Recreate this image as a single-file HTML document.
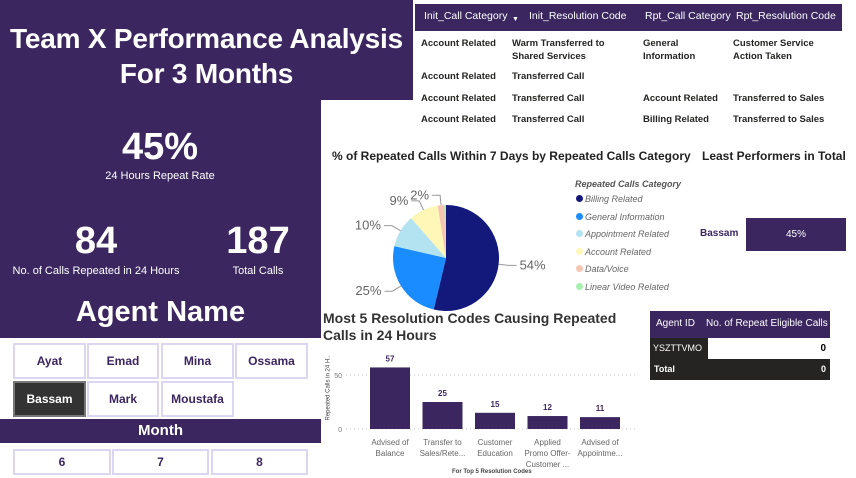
<!DOCTYPE html>
<html><head><meta charset="utf-8"><style>
*{margin:0;padding:0;box-sizing:border-box}
body{width:856px;height:478px;position:relative;background:#fff;font-family:"Liberation Sans",sans-serif;overflow:hidden}
.abs{position:absolute}
.pur{background:#3b2660}
.w{color:#fff;text-align:center;position:absolute}
.btn{position:absolute;border:2px solid #ddd6f3;background:#fff;color:#3b2660;font-weight:bold;font-size:12px;text-align:center}
.th{position:absolute;color:#fff;font-size:10px}
.td{position:absolute;color:#252423;font-size:9.5px;font-weight:bold;line-height:13px}
</style></head><body>
<div class="abs pur" style="left:0;top:0;width:321px;height:338px"></div>
<div class="abs pur" style="left:321px;top:0;width:92px;height:100px"></div>
<div class="w" style="left:0;top:21px;width:413px;font-size:28px;font-weight:bold;line-height:35px;letter-spacing:-0.2px">Team X Performance Analysis<br>For 3 Months</div>
<div class="w" style="left:60px;top:126px;width:200px;font-size:38px;font-weight:bold">45%</div>
<div class="w" style="left:60px;top:170px;width:200px;font-size:11px">24 Hours Repeat Rate</div>
<div class="w" style="left:0;top:220px;width:192px;font-size:38px;font-weight:bold">84</div>
<div class="w" style="left:0;top:265px;width:192px;font-size:11px">No. of Calls Repeated in 24 Hours</div>
<div class="w" style="left:208px;top:220px;width:100px;font-size:38px;font-weight:bold">187</div>
<div class="w" style="left:208px;top:265px;width:100px;font-size:11px">Total Calls</div>
<div class="w" style="left:0;top:296px;width:321px;font-size:29px;font-weight:bold">Agent Name</div>
<div class="btn" style="left:13px;top:343px;width:73px;height:36px;line-height:32px">Ayat</div>
<div class="btn" style="left:87px;top:343px;width:72px;height:36px;line-height:32px">Emad</div>
<div class="btn" style="left:161px;top:343px;width:73px;height:36px;line-height:32px">Mina</div>
<div class="btn" style="left:235px;top:343px;width:73px;height:36px;line-height:32px">Ossama</div>
<div class="btn" style="left:13px;top:381px;width:73px;height:36px;line-height:32px;background:#333;color:#fff;border-color:#777">Bassam</div>
<div class="btn" style="left:87px;top:381px;width:72px;height:36px;line-height:32px">Mark</div>
<div class="btn" style="left:161px;top:381px;width:73px;height:36px;line-height:32px">Moustafa</div>
<div class="abs pur" style="left:0;top:419px;width:321px;height:24px"></div>
<div class="w" style="left:0;top:422px;width:321px;font-size:15px;font-weight:bold">Month</div>
<div class="btn" style="left:13px;top:449px;width:98px;height:26px;line-height:22px">6</div>
<div class="btn" style="left:112px;top:449px;width:97px;height:26px;line-height:22px">7</div>
<div class="btn" style="left:211px;top:449px;width:97px;height:26px;line-height:22px">8</div>

<div class="abs pur" style="left:415px;top:4px;width:427px;height:27px"></div>
<div class="th" style="left:424px;top:10px;font-size:10.5px">Init_Call Category</div>
<div class="th" style="left:512px;top:16px;font-size:7px">▼</div>
<div class="th" style="left:529px;top:10px;font-size:10.5px">Init_Resolution Code</div>
<div class="th" style="left:645px;top:10px;font-size:10.5px">Rpt_Call Category</div>
<div class="th" style="left:736px;top:10px;font-size:10.5px">Rpt_Resolution Code</div>
<div class="td" style="left:421px;top:37px">Account Related</div>
<div class="td" style="left:512px;top:37px">Warm Transferred to<br>Shared Services</div>
<div class="td" style="left:643px;top:37px">General<br>Information</div>
<div class="td" style="left:733px;top:37px">Customer Service<br>Action Taken</div>
<div class="td" style="left:421px;top:70px">Account Related</div>
<div class="td" style="left:512px;top:70px">Transferred Call</div>
<div class="td" style="left:421px;top:92px">Account Related</div>
<div class="td" style="left:512px;top:92px">Transferred Call</div>
<div class="td" style="left:643px;top:92px">Account Related</div>
<div class="td" style="left:733px;top:92px">Transferred to Sales</div>
<div class="td" style="left:421px;top:113px">Account Related</div>
<div class="td" style="left:512px;top:113px">Transferred Call</div>
<div class="td" style="left:643px;top:113px">Billing Related</div>
<div class="td" style="left:733px;top:113px">Transferred to Sales</div>

<div class="abs" style="left:332px;top:149px;font-size:12px;font-weight:bold;color:#222">% of Repeated Calls Within 7 Days by Repeated Calls Category</div>
<svg class="abs" style="left:0;top:0" width="856" height="478" id="pie"></svg>
<div class="abs" style="left:575px;top:179px;font-size:9px;font-weight:bold;font-style:italic;color:#555">Repeated Calls Category</div>
<div id="legend"></div>

<div class="abs" style="left:702px;top:149px;font-size:12px;font-weight:bold;color:#222;white-space:nowrap">Least Performers in Total</div>
<div class="abs" style="left:700px;top:228px;font-size:10px;font-weight:bold;color:#3b2660">Bassam</div>
<div class="abs pur" style="left:746px;top:218px;width:100px;height:33px;color:#fff;font-size:10px;text-align:center;line-height:33px">45%</div>

<div class="abs" style="left:323px;top:310px;font-size:14px;font-weight:bold;color:#333;line-height:17px">Most 5 Resolution Codes Causing Repeated<br>Calls in 24 Hours</div>
<div class="abs" style="left:452px;top:469px;font-size:6px;color:#444;font-weight:bold">For Top 5 Resolution Codes</div>
<div class="abs" style="left:296px;top:385px;font-size:6px;color:#444;transform:rotate(-90deg);white-space:nowrap">Repeated Calls in 24 H..</div>

<div class="abs pur" style="left:650px;top:311px;width:180px;height:27px"></div>
<div class="th" style="left:656px;top:318px">Agent ID</div>
<div class="th" style="left:706px;top:318px">No. of Repeat Eligible Calls</div>
<div class="abs" style="left:650px;top:338px;width:58px;height:21px;background:#252423;color:#fff;font-size:9px;line-height:21px;padding-left:3px">YSZTTVMO</div>
<div class="abs" style="left:790px;top:338px;width:36px;height:21px;font-size:10px;font-weight:bold;line-height:21px;text-align:right">0</div>
<div class="abs" style="left:650px;top:359px;width:180px;height:21px;background:#252423;color:#fff;font-size:9px;font-weight:bold;line-height:21px;padding:0 4px"><span>Total</span><span style="float:right">0</span></div>

<script>
const pieCategories=["Billing Related","General Information","Appointment Related","Account Related","Data/Voice","Linear Video Related"];
const pieValues=[54,25,10,9,2,0.5];
const pieLabels=["54%","25%","10%","9%","2%",""];
const pieColors=["#12197a","#1a8cff","#b3e2f0","#fff7b8","#f5c6b2","#a8f0b0"];
const barCategories=[["Advised of","Balance"],["Transfer to","Sales/Rete..."],["Customer","Education"],["Applied","Promo Offer-","Customer ..."],["Advised of","Appointme..."]];
const barValues=[57,25,15,12,11];
const yTicks=[0,50];

const NS="http://www.w3.org/2000/svg";
const svg=document.getElementById('pie');
function mk(t,a){const e=document.createElementNS(NS,t);for(const k in a)e.setAttribute(k,a[k]);svg.appendChild(e);return e;}
const cx=446,cy=258,r=53;
const tot=pieValues.reduce((a,b)=>a+b,0);
let ang=0;
pieValues.forEach((v,i)=>{
  const a0=ang,a1=ang+v/tot*2*Math.PI;ang=a1;
  const x0=cx+r*Math.sin(a0),y0=cy-r*Math.cos(a0),x1=cx+r*Math.sin(a1),y1=cy-r*Math.cos(a1);
  const p=mk('path',{d:`M${cx},${cy}L${x0},${y0}A${r},${r} 0 ${a1-a0>Math.PI?1:0} 1 ${x1},${y1}Z`,fill:pieColors[i]});
  
  
  if(pieLabels[i]){
    const m=(a0+a1)/2,sx=Math.sin(m),sy=-Math.cos(m);
    const ex=cx+(r+10)*sx,ey=cy+(r+10)*sy;
    const tx=ex+(sx>0?8:-8);
    mk('polyline',{points:`${cx+r*sx},${cy+r*sy} ${ex},${ey} ${tx},${ey}`,fill:'none',stroke:'#999','stroke-width':1});
    const t=mk('text',{x:tx+(sx>0?3:-3),y:ey+4,'font-size':13,fill:'#666','text-anchor':sx>0?'start':'end','font-family':'Liberation Sans'});
    t.textContent=pieLabels[i];
    
    
  }
});
const lg=document.getElementById('legend');
pieCategories.forEach((c,i)=>{
  const d=document.createElement('div');
  d.className='abs';
  d.style.cssText=`left:576px;top:${194+i*17.5}px;font-size:9px;font-style:italic;color:#666;white-space:nowrap`;
  d.innerHTML=`<span style="display:inline-block;width:7px;height:7px;border-radius:50%;background:${pieColors[i]};margin-right:2px"></span>${c}`;
  
  
  lg.appendChild(d);
});
const y0=429,yScale=54/50;
const yPos=v=>y0-v*yScale;
const xPos=i=>370+i*52.5;
yTicks.forEach(t=>{
  mk('line',{x1:346,x2:636,y1:yPos(t),y2:yPos(t),stroke:'#ccc','stroke-dasharray':'1,3'});
  const tx=mk('text',{x:342,y:yPos(t)+3,'font-size':7,fill:'#777','text-anchor':'end','font-family':'Liberation Sans'});
  tx.textContent=t;
  
  
});
barValues.forEach((v,i)=>{
  const b=mk('rect',{x:xPos(i),y:yPos(v),width:40,height:v*yScale,fill:'#3b2660'});
  
  
  const t=mk('text',{x:xPos(i)+20,y:yPos(v)-6,'font-size':8,'font-weight':'bold',fill:'#3b2660','text-anchor':'middle','font-family':'Liberation Sans'});
  t.textContent=v;
  
  
  barCategories[i].forEach((ln,j)=>{
    const c=mk('text',{x:xPos(i)+20,y:445+j*11,'font-size':8,fill:'#666','text-anchor':'middle','font-family':'Liberation Sans'});
    c.textContent=ln;
    
    
  });
});
</script>
</body></html>
